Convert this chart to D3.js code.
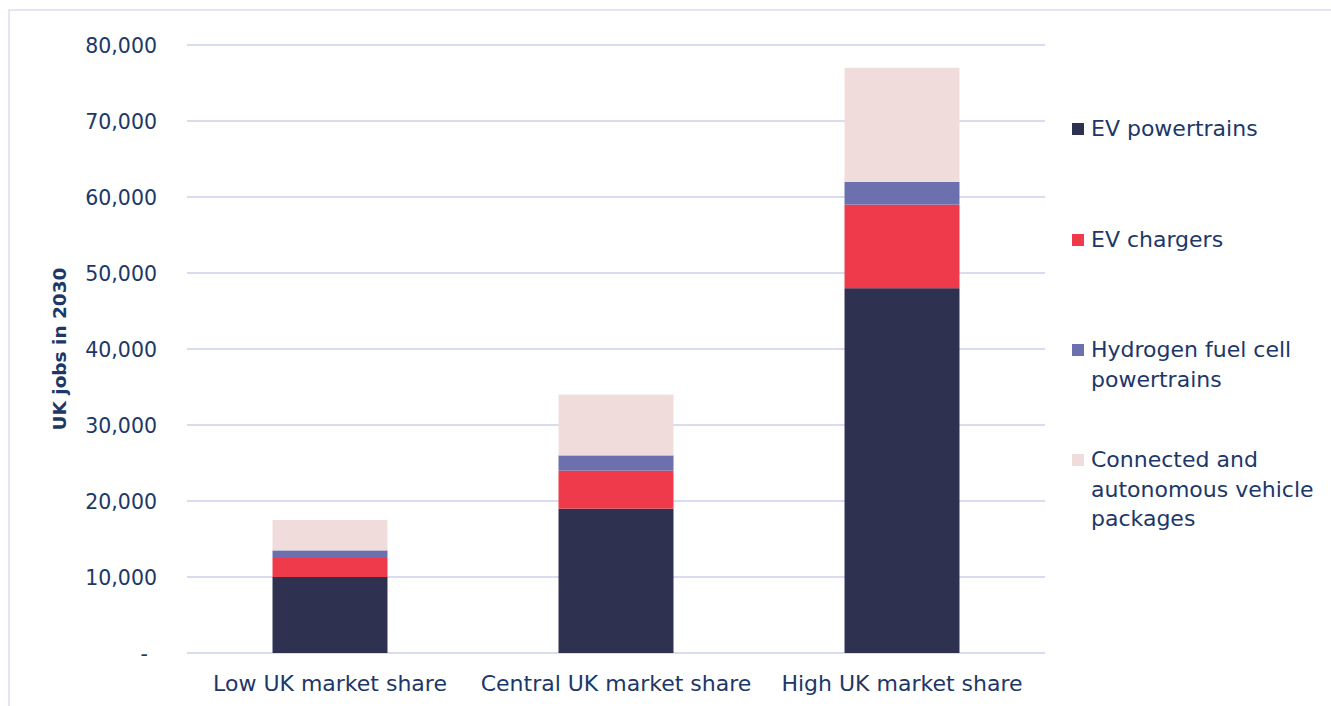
<!DOCTYPE html>
<html>
<head>
<meta charset="utf-8">
<script src="https://cdn.jsdelivr.net/npm/d3@7"></script>
<style>
  html, body { margin: 0; padding: 0; background: #fff; }
  svg { display: block; }
  text { font-family: "DejaVu Sans", "Noto Sans", sans-serif; fill: #1d3768; }
</style>
</head>
<body>
<svg id="chart" width="1331" height="706"></svg>
<script>
// Scenarios along the x axis
const categories = ["Low UK market share", "Central UK market share", "High UK market share"];

// Stacked series (UK jobs in 2030)
const seriesNames = ["EV powertrains", "EV chargers", "Hydrogen fuel cell powertrains", "Connected and autonomous vehicle packages"];
const evPowertrains = [10000, 19000, 48000];
const evChargers = [2500, 5000, 11000];
const hydrogenFuelCell = [1000, 2000, 3000];
const connectedAutonomous = [4000, 8000, 15000];

// Legend text split onto lines
const legendLines = [["EV powertrains"], ["EV chargers"], ["Hydrogen fuel cell", "powertrains"], ["Connected and", "autonomous vehicle", "packages"]];

const yTicks = [0, 10000, 20000, 30000, 40000, 50000, 60000, 70000, 80000];
const colors = ["#2e3150", "#ee3a4b", "#6c70ae", "#f0dcdb"];

const FONT = "'DejaVu Sans', 'Noto Sans', sans-serif";
const svg = d3.select("#chart");

// Outer frame
svg.append("rect")
  .attr("x", 9).attr("y", 10).attr("width", 1340).attr("height", 720)
  .attr("fill", "none").attr("stroke", "#dcdef0").attr("stroke-width", 1.5);

const plot = { left: 187, right: 1045, top: 45, bottom: 653 };

const x = d3.scaleBand().domain(categories).range([plot.left, plot.right]).paddingInner(0.598).paddingOuter(0.299);
const y = d3.scaleLinear().domain([0, 80000]).range([plot.bottom, plot.top]);

// Gridlines
svg.append("g").selectAll("line").data(yTicks).join("line")
  .attr("x1", plot.left).attr("x2", plot.right)
  .attr("y1", d => y(d)).attr("y2", d => y(d))
  .attr("stroke", "#d9dbee").attr("stroke-width", 2);

// Y axis labels
const yAxis = d3.axisLeft(y).tickValues(yTicks).tickSize(0).tickPadding(0)
  .tickFormat(d => d === 0 ? "-" : d3.format(",")(d));
const yg = svg.append("g").attr("transform", "translate(157,0)").call(yAxis);
yg.select(".domain").remove();
yg.selectAll("text").attr("font-size", 20.5).attr("fill", "#1d3768")
  .attr("font-family", FONT)
  .attr("dy", "0.36em").attr("dx", d => d === 0 ? -9 : 0);

// Y axis title
svg.append("text")
  .attr("transform", "translate(66,349) rotate(-90)")
  .attr("text-anchor", "middle").attr("font-size", 18.5).attr("font-weight", "bold")
  .text("UK jobs in 2030");

// Stack the series
const rows = categories.map((c, i) => ({
  cat: c,
  s0: evPowertrains[i], s1: evChargers[i], s2: hydrogenFuelCell[i], s3: connectedAutonomous[i]
}));
const stack = d3.stack().keys(["s0", "s1", "s2", "s3"])(rows);

svg.append("g").selectAll("g").data(stack).join("g")
  .attr("fill", (d, i) => colors[i])
  .selectAll("rect").data(d => d).join("rect")
  .attr("x", d => x(d.data.cat))
  .attr("width", x.bandwidth())
  .attr("y", d => y(d[1]))
  .attr("height", d => y(d[0]) - y(d[1]));

// X axis labels
const xAxis = d3.axisBottom(x).tickSize(0).tickPadding(0);
const xg = svg.append("g").attr("transform", `translate(0,${plot.bottom})`).call(xAxis);
xg.select(".domain").remove();
xg.selectAll("text").attr("font-size", 22).attr("fill", "#1d3768")
  .attr("font-family", FONT)
  .attr("dy", "1.72em");

// Legend
const legendY = [129, 240, 350, 460];
const lg = svg.append("g");
seriesNames.forEach((name, i) => {
  const g = lg.append("g").attr("transform", `translate(1072,${legendY[i]})`);
  g.append("rect").attr("x", 0).attr("y", -6).attr("width", 12).attr("height", 12).attr("fill", colors[i]);
  const t = g.append("text").attr("x", 19).attr("font-size", 22);
  legendLines[i].forEach((line, j) => {
    t.append("tspan").attr("x", 19).attr("y", j * 29.5).attr("dy", "0.33em").text(line);
  });
});
</script>
</body>
</html>
